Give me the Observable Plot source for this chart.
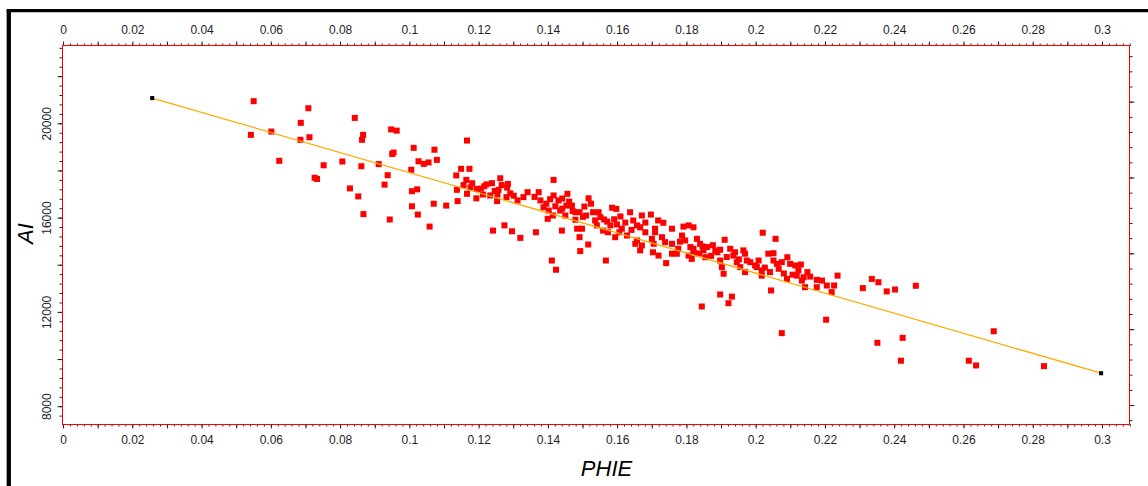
<!DOCTYPE html>
<html>
<head>
<meta charset="utf-8">
<script src="https://cdn.jsdelivr.net/npm/d3@7"></script>
<script src="https://cdn.jsdelivr.net/npm/@observablehq/plot@0.6"></script>
<style>
  html, body { margin: 0; padding: 0; background: #fff; }
  #chart svg { display: block; }
</style>
</head>
<body>
<div id="chart"></div>
<script>
// ---- data ----
const phie = [
  0.0549,0.0707,0.0685,0.0841,0.0541,0.0600,0.0684,0.0710,0.0865,0.0862,0.0946,0.0962,
  0.0623,0.0751,0.0805,0.0860,0.0910,0.0725,0.0732,0.0936,0.0953,0.0949,0.0827,0.0927,
  0.0851,0.0866,0.0942,
  0.1011,0.1071,0.1025,0.1040,0.1054,0.1078,0.1004,0.1165,0.1006,0.1021,0.1069,0.1105,
  0.1006,0.1023,0.1057,
  0.1148,0.1172,0.1134,0.1163,0.1180,0.1136,0.1165,0.1192,0.1138,0.1221,0.1237,0.1261,
  0.1283,0.1281,0.1256,0.1253,0.1232,0.1252,0.1279,0.1211,0.1311,0.1328,0.1340,0.1372,
  0.1377,0.1394,0.1415,0.1415,0.1401,0.1386,0.1398,0.1413,0.1455,0.1452,0.1468,0.1434,
  0.1449,0.1478,0.1490,0.1478,0.1483,0.1497,0.1516,0.1523,0.1545,0.1529,0.1550,0.1540,
  0.1558,0.1572,0.1584,0.1596,0.1598,0.1612,0.1593,0.1636,0.1627,0.1656,0.1651,0.1665,
  0.1194,
  0.1670,0.1696,0.1665,0.1680,0.1708,0.1732,0.1757,0.1790,0.1805,0.1819,0.1656,0.1670,
  0.1699,0.1704,0.1702,0.1718,0.1728,0.1737,0.1740,0.1757,0.1771,0.1786,0.1795,0.1810,
  0.1819,0.1829,0.1838,0.1805,0.1814,0.1848,0.1858,0.1853,0.1882,0.1896,0.1888,0.1909,
  0.1906,0.1925,0.1934,0.1944,0.1963,0.1973,0.1954,0.1968,0.1983,0.1997,0.2007,0.2016,
  0.2019,0.2035,0.2050,0.2056,0.2040,0.2050,0.2060,0.2074,0.2090,0.2098,0.2089,0.2113,
  0.2122,0.2129,0.2137,0.2148,0.2156,0.2141,0.2175,0.2190,0.2204,0.2218,0.2225,0.2235,
  0.2043,0.1896,0.1930,0.1920,0.1843,0.2202,0.2074,
  0.2308,0.2334,0.2353,0.2377,0.2401,0.2461,0.2350,0.2423,0.2418,0.2614,0.2635,0.2686,0.2831,
  0.2175,0.2132,0.2117,0.1708,0.1896,0.1901,0.1939,0.1968,0.2002,0.2016,0.1819,0.1757,
  0.1429,0.1440,0.1504,0.1509,0.1561,0.1579,0.1608,0.1622,0.1680,0.1717,
  0.1240,0.1273,0.1295,0.1319,0.1364,0.1410,0.1422,0.1439,0.1492,0.1515,0.1566,0.1490,
  0.1155,0.1175,0.1205,0.1215,0.1245,0.1265,0.1290,0.1300,
  0.1360,0.1405,0.1420,0.1440,0.1460,0.1470,0.1500,0.1535,
  0.1570,0.1590,0.1605,0.1640,0.1645,
  0.1775,0.1780,0.1835,0.1845,0.1870,0.1875,0.1915,0.1950,
  0.2025,0.2065,0.2080,0.2105
];
const ai = [
  20960,20660,20040,20250,19530,19670,19320,19430,19530,19320,19760,19710,
  18430,18240,18400,18200,18290,17710,17660,17820,18780,18720,17260,17420,
  16920,16170,15940,
  18980,18900,18410,18300,18360,18470,18050,19290,17140,17220,16610,16530,
  16500,16150,15640,
  18090,18090,17810,17620,17480,17200,17030,16840,16720,17430,17480,17690,
  17450,17290,17200,17000,16960,16720,16890,17000,16750,16890,17100,17100,
  16750,16610,17620,16960,16320,16460,15970,16110,17030,16530,16530,16320,
  16110,16250,16250,15930,15550,15550,16840,16610,16250,16250,16040,15690,
  15470,15400,16440,16390,15730,15550,15190,16250,15260,15690,14910,14630,
  17240,
  16110,16150,15610,15400,15550,15800,15550,15640,15690,15610,15050,14840,
  15120,14910,14550,14410,15190,14980,14090,14910,14490,15260,15050,14770,
  14550,15120,14910,14410,14270,14630,14770,14340,14630,14200,14550,15080,
  13640,14700,14410,14130,14630,14200,13920,13710,14130,13990,14200,13780,
  15380,14490,14510,15120,13710,14200,14060,14130,14340,14060,13420,13990,
  13780,14030,13490,13710,13520,13070,13070,13350,13140,12860,13140,13560,
  12930,12760,12670,12390,12250,11690,11120,
  13030,13420,13280,12890,12970,13130,10710,10920,9950,9950,9750,11200,9720,
  13380,13350,13560,15400,14660,13920,14550,14490,13920,13560,14700,14490,
  16750,16830,16490,16110,15940,15690,16070,15810,15810,15900,
  15470,15690,15440,15160,15400,14200,13810,15470,14600,14880,14200,15190,
  17400,17300,17250,17350,17150,17400,17050,16950,
  16900,16800,16500,16400,16700,16300,16050,15900,
  15850,15950,15400,15500,15900,
  14700,15000,14500,14800,14400,14850,14350,14250,
  13900,13850,13650,13600
];
// trend line end points
const lineX = [0.0256, 0.2996];
const lineY = [21090, 9420];
// tick labels
const xLabels = [0, 0.02, 0.04, 0.06, 0.08, 0.1, 0.12, 0.14, 0.16, 0.18, 0.2, 0.22, 0.24, 0.26, 0.28, 0.3];
const yLabels = [8000, 12000, 16000, 20000];

// ---- build ----
const points = phie.map((p, i) => ({phie: p, ai: ai[i]}));
const trend = lineX.map((p, i) => ({phie: p, ai: lineY[i]}));

const xMinor = d3.range(0, 0.3081, 0.002);
const xMajor = d3.range(0, 0.3075, 0.01);
const yMinor = d3.range(7600, 23330, 400);
const yMajor = d3.range(8000, 23330, 2000);
const rMinor = d3.range(-1, 24).map(i => 8050 + i * 643.4).filter(v => v > 7250 && v < 23320);
const rMajor = rMinor.filter(v => Math.abs(((v - 8050) / 643.4) % 5) < 0.01);

const tickColor = "#222";
const labelColor = "#1e1e2a";
const blank = () => "";
const font = "Liberation Sans, Arial, sans-serif";
const centered = {textAnchor: "middle", lineAnchor: "middle"};

const chart = Plot.plot({
  width: 1148,
  height: 486,
  marginLeft: 62,
  marginTop: 45,
  marginRight: 19,
  marginBottom: 62,
  style: {fontFamily: font, fontSize: "12px", background: "#fff", overflow: "visible"},
  x: {domain: [-0.0003, 0.3078]},
  y: {domain: [7245, 23321]},
  marks: [
    // ticks
    Plot.axisX({anchor: "bottom", ticks: xMinor, tickSize: 2.5, tickFormat: blank, label: null, stroke: tickColor}),
    Plot.axisX({anchor: "bottom", ticks: xMajor, tickSize: 4.5, tickFormat: blank, label: null, stroke: tickColor}),
    Plot.axisX({anchor: "top", ticks: xMinor, tickSize: 2.5, tickFormat: blank, label: null, stroke: tickColor}),
    Plot.axisX({anchor: "top", ticks: xMajor, tickSize: 4.5, tickFormat: blank, label: null, stroke: tickColor}),
    Plot.axisY({anchor: "left", ticks: yMinor, tickSize: 2.5, tickFormat: blank, label: null, stroke: tickColor}),
    Plot.axisY({anchor: "left", ticks: yMajor, tickSize: 4.5, tickFormat: blank, label: null, stroke: tickColor}),
    Plot.axisY({anchor: "right", ticks: rMinor, tickSize: 2.5, tickFormat: blank, label: null, stroke: tickColor}),
    Plot.axisY({anchor: "right", ticks: rMajor, tickSize: 4.5, tickFormat: blank, label: null, stroke: tickColor}),
    // tick labels
    Plot.text(xLabels, {x: d => d, text: d => String(d), frameAnchor: "bottom", dy: 15.5, fill: labelColor, fontSize: 12, ...centered}),
    Plot.text(xLabels, {x: d => d, text: d => String(d), frameAnchor: "top", dy: -15.5, fill: labelColor, fontSize: 12, ...centered}),
    Plot.text(yLabels, {y: d => d, text: d => String(d), frameAnchor: "left", dx: -15.5, rotate: -90, fill: labelColor, fontSize: 12, ...centered}),
    // axis titles
    Plot.text(["PHIE"], {frameAnchor: "bottom", dx: 10.5, dy: 44, fontSize: 22, fontStyle: "italic", fill: "#000", ...centered}),
    Plot.text(["AI"], {frameAnchor: "left", dx: -37, dy: -1.5, rotate: -90, fontSize: 22, fontStyle: "italic", fill: "#000", ...centered}),
    // data
    Plot.dot(points, {x: "phie", y: "ai", symbol: "square", r: 3.4, fill: "#ff0000", stroke: "none"}),
    Plot.line(trend, {x: "phie", y: "ai", stroke: "#ffaa00", strokeWidth: 1.3}),
    Plot.dot(trend, {x: "phie", y: "ai", symbol: "square", r: 2.3, fill: "#000", stroke: "none"}),
    Plot.frame({stroke: "#ff0000", strokeWidth: 1})
  ]
});

// outer window border (decoration)
const svg = d3.select(chart);
svg.append("line").attr("x1", 8.8).attr("x2", 8.8).attr("y1", 9).attr("y2", 486)
  .attr("stroke", "#000").attr("stroke-width", 4.3);
svg.append("line").attr("x1", 6.7).attr("x2", 1148).attr("y1", 10.6).attr("y2", 10.6)
  .attr("stroke", "#000").attr("stroke-width", 3.3);

document.getElementById("chart").appendChild(chart);
</script>
</body>
</html>
